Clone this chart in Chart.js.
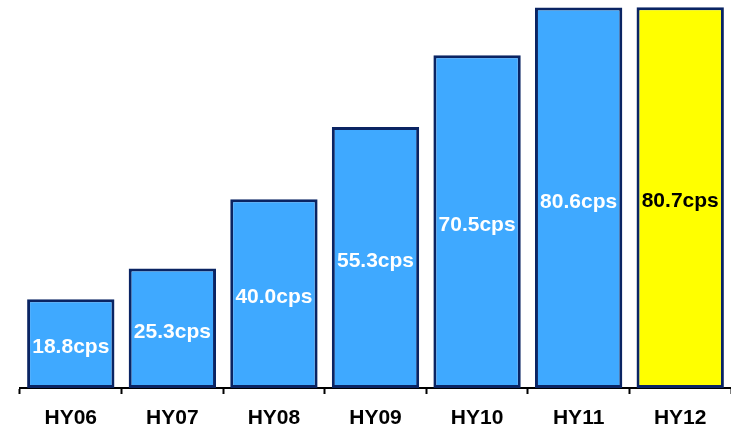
<!DOCTYPE html>
<html>
<head>
<meta charset="utf-8">
<script src="https://cdn.jsdelivr.net/npm/chart.js@4/dist/chart.umd.min.js"></script>
<style>
  html, body { margin: 0; padding: 0; background: #ffffff; }
  #wrap { width: 731px; height: 430px; }
</style>
</head>
<body>
<div id="wrap"><canvas id="c" width="731" height="430"></canvas></div>
<script>
// Half-year dividend per share
const categories = ['HY06', 'HY07', 'HY08', 'HY09', 'HY10', 'HY11', 'HY12'];
const values = [18.8, 25.3, 40.0, 55.3, 70.5, 80.6, 80.7];
const valueLabels = ['18.8cps', '25.3cps', '40.0cps', '55.3cps', '70.5cps', '80.6cps', '80.7cps'];

const blue = '#3FA9FF';
const yellow = '#FFFF00';
const fills = categories.map((_, i) => i === categories.length - 1 ? yellow : blue);
const labelColors = categories.map((_, i) => i === categories.length - 1 ? '#000000' : '#ffffff');

const fontFamily = '"Liberation Sans", Arial, sans-serif';

// Writes each value label in the middle of its bar
const barLabels = {
  id: 'barLabels',
  afterDatasetsDraw(chart) {
    const ctx = chart.ctx;
    const meta = chart.getDatasetMeta(0);
    ctx.save();
    ctx.font = 'bold 21px ' + fontFamily;
    ctx.textAlign = 'center';
    ctx.textBaseline = 'middle';
    meta.data.forEach((bar, i) => {
      const p = bar.getProps(['x', 'y', 'base'], true);
      ctx.fillStyle = labelColors[i];
      ctx.fillText(valueLabels[i], p.x, (p.y + p.base) / 2 + 4);
    });
    ctx.restore();
  }
};

new Chart(document.getElementById('c'), {
  type: 'bar',
  data: {
    labels: categories,
    datasets: [{
      data: values,
      backgroundColor: fills,
      borderColor: '#0A2463',
      borderWidth: 3,
      borderSkipped: false,
      barPercentage: 0.86,
      categoryPercentage: 1.0
    }]
  },
  options: {
    responsive: false,
    animation: false,
    layout: { padding: { left: 20, right: 0, top: 1, bottom: 0 } },
    plugins: {
      legend: { display: false },
      tooltip: { enabled: false }
    },
    scales: {
      x: {
        offset: true,
        afterFit(scale) { scale.height = 42; },
        grid: {
          offset: true,
          drawOnChartArea: false,
          drawTicks: true,
          tickLength: 6,
          tickWidth: 2,
          tickColor: '#000000'
        },
        border: { display: true, color: '#000000', width: 2 },
        ticks: {
          color: '#000000',
          padding: 12,
          font: { family: fontFamily, size: 21, weight: 'bold' }
        }
      },
      y: {
        display: false,
        min: 0,
        max: 82
      }
    }
  },
  plugins: [barLabels]
});
</script>
</body>
</html>
